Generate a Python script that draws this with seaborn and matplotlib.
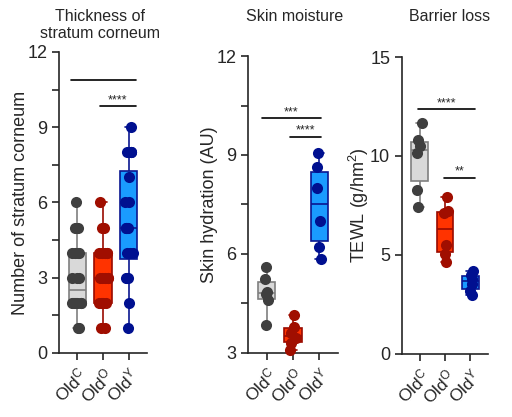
import numpy as np
import pandas as pd
import matplotlib
matplotlib.use('Agg')
import matplotlib.pyplot as plt
from matplotlib.ticker import MultipleLocator
import seaborn as sns

# groups and colours
groups = ['OldC', 'OldO', 'OldY']
tick_labels = [r'Old$^{\mathrm{C}}$', r'Old$^{\mathrm{O}}$', r'Old$^{\mathrm{Y}}$']
box_faces = ['#D9D9D9', '#FF3300', '#1A9BFF']
box_edges = ['#7F7F7F', '#9A0A00', '#0A1690']
dot_colors = ['#3F3F3F', '#A00E00', '#001090']

# 1 : Thickness of stratum corneum (counts)
sc_oldc = [1, 1, 2, 2, 2, 2, 2, 2, 2, 2, 3, 3, 3, 4, 4, 4, 4, 5, 5, 6]
sc_oldo = [1, 1, 2, 2, 2, 2, 2, 3, 3, 3, 3, 3, 4, 4, 4, 4, 4, 5, 5, 6]
sc_oldy = [1, 2, 3, 3, 3, 4, 4, 4, 5, 5, 5, 5, 6, 6, 7, 8, 8, 8, 8, 9]

# 2 : Skin hydration (AU)
hyd_oldc = [3.85, 4.6, 4.8, 4.85, 5.25, 5.6]
hyd_oldo = [3.1, 3.3, 3.45, 3.6, 3.8, 4.15]
hyd_oldy = [5.85, 6.2, 7.0, 8.0, 8.65, 9.05]

# 3 : TEWL (g/hm2)
tewl_oldc = [7.4, 8.3, 10.15, 10.5, 10.8, 11.65]
tewl_oldo = [4.65, 5.05, 5.5, 7.1, 7.2, 7.95]
tewl_oldy = [3.0, 3.2, 3.55, 3.8, 4.0, 4.2]


def make_df(a, b, c):
    return pd.DataFrame({
        'group': ['OldC'] * len(a) + ['OldO'] * len(b) + ['OldY'] * len(c),
        'value': list(a) + list(b) + list(c),
    })


sns.set_style('ticks')
plt.rcParams['font.family'] = ['Liberation Sans', 'DejaVu Sans']
plt.rcParams['mathtext.fontset'] = 'custom'
plt.rcParams['mathtext.rm'] = 'Liberation Sans'
plt.rcParams['mathtext.it'] = 'Liberation Sans:italic'
plt.rcParams['mathtext.bf'] = 'Liberation Sans:bold'

np.random.seed(3)

fig = plt.figure(figsize=(5.12, 4.17), dpi=100)
ax1 = fig.add_axes([0.1152, 0.1535, 0.1719, 0.7218])
ax2 = fig.add_axes([0.4844, 0.1535, 0.1758, 0.7122])
ax3 = fig.add_axes([0.7852, 0.1511, 0.1680, 0.7122])


def draw_panel(ax, df, ylim, major, minor, ylabel, jitter):
    for g, face, edge, dot in zip(groups, box_faces, box_edges, dot_colors):
        sub = df[df['group'] == g]
        sns.boxplot(data=sub, x='group', y='value', order=groups, ax=ax,
                    color=face, linecolor=edge, width=0.66, whis=(0, 100),
                    showfliers=False, linewidth=1.2, saturation=1)
        sns.stripplot(data=sub, x='group', y='value', order=groups, ax=ax,
                      color=dot, size=8, jitter=jitter, zorder=3)
    ax.set_xlim(-0.7, 2.7)
    ax.set_ylim(*ylim)
    ax.yaxis.set_major_locator(MultipleLocator(major))
    if minor:
        ax.yaxis.set_minor_locator(MultipleLocator(minor))
    ax.set_xticks(range(3))
    ax.set_xticklabels(tick_labels, rotation=45, ha='right',
                       rotation_mode='anchor', fontsize=12.5)
    ax.set_xlabel('')
    ax.set_ylabel(ylabel, fontsize=13, labelpad=-1)
    ax.tick_params(axis='both', which='both', length=5, width=1.2,
                   labelsize=13, direction='out')
    ax.tick_params(axis='x', labelsize=12.5)
    for s in ['left', 'bottom']:
        ax.spines[s].set_linewidth(1.2)
    sns.despine(ax=ax)
    for c in ax.collections:
        c.set_clip_on(False)


def sig_bar(ax, x0, x1, y, text):
    ax.plot([x0, x1], [y, y], color='black', lw=1.2)
    if text:
        ax.text((x0 + x1) / 2, y, text, ha='center', va='bottom', fontsize=9)


draw_panel(ax1, make_df(sc_oldc, sc_oldo, sc_oldy), (0, 12), 3, 1.5,
           'Number of stratum corneum', 0.2)
sig_bar(ax1, -0.23, 2.27, 10.88, '')
sig_bar(ax1, 0.88, 2.27, 9.84, '****')

draw_panel(ax2, make_df(hyd_oldc, hyd_oldo, hyd_oldy), (3, 12), 3, 1.5,
           'Skin hydration (AU)', 0.12)
sig_bar(ax2, -0.19, 2.04, 10.12, '***')
sig_bar(ax2, 0.88, 2.04, 9.55, '****')

draw_panel(ax3, make_df(tewl_oldc, tewl_oldo, tewl_oldy), (0, 15), 5, None,
           r'TEWL (g/hm$^{2}$)', 0.12)
sig_bar(ax3, -0.05, 2.2, 12.37, '****')
sig_bar(ax3, 0.95, 2.2, 8.9, '**')

# panel titles
fig.text(0.195, 0.978, 'Thickness of\nstratum corneum', ha='center', va='top',
         fontsize=11.5, linespacing=1.15)
fig.text(0.576, 0.978, 'Skin moisture', ha='center', va='top', fontsize=11.5)
fig.text(0.879, 0.978, 'Barrier loss', ha='center', va='top', fontsize=11.5)

fig.savefig('out.png', dpi=100)
